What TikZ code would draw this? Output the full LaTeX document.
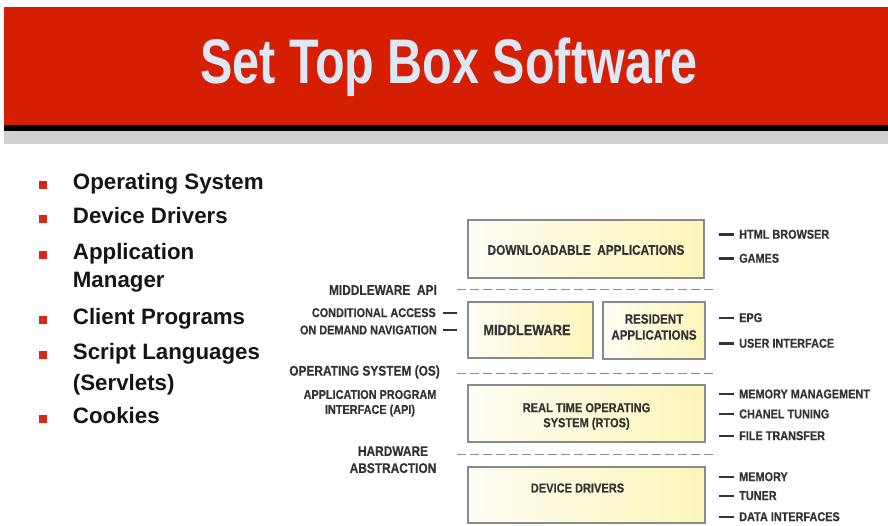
\documentclass[tikz,border=0pt]{standalone}
\usepackage{fontspec}
\setmainfont{Liberation Sans}
\newfontfamily\titlefont[FakeStretch=0.77]{Liberation Sans Bold}
\newfontfamily\dfont[FakeStretch=0.85,FakeBold=0.4]{Liberation Sans Bold}
\newfontfamily\bfont{Liberation Sans Bold}
\definecolor{bannerred}{HTML}{D61E02}
\definecolor{titleblue}{HTML}{DCE8F6}
\definecolor{bulletred}{HTML}{D8261A}
\definecolor{txtdark}{HTML}{151515}
\definecolor{lbl}{HTML}{333333}
\definecolor{boxline}{HTML}{8A8A8A}
\definecolor{boxyellow}{HTML}{FCF5B8}
\definecolor{boxwhite}{HTML}{FEFDF4}
\tikzset{
  layerbox/.style={draw=boxline, line width=1.3pt, left color=boxwhite, right color=boxyellow, inner sep=0pt},
  boxtext/.style={font=\dfont\fontsize{13}{15}\selectfont, text=lbl, align=center, inner sep=0pt},
  sidelabel/.style={font=\dfont\fontsize{12.8}{14}\selectfont, text=lbl, inner sep=0pt},
  layerlabel/.style={font=\dfont\fontsize{14}{16}\selectfont, text=lbl, inner sep=0pt, align=center},
  tick/.style={draw=lbl, line width=2.4pt},
  layerline/.style={draw=boxline, line width=1.4pt, dash pattern=on 9pt off 4pt},
  bul/.style={fill=bulletred, minimum size=8pt, inner sep=0pt},
  bultext/.style={font=\bfont\fontsize{22.3}{30}\selectfont, text=txtdark, anchor=base west, inner sep=0pt, align=left}
}
\begin{document}
\begin{tikzpicture}[x=1pt,y=-1pt]
\useasboundingbox (0,0) rectangle (888,525);
% banner
\fill[bannerred] (4,7) rectangle (888,125);
\fill[black] (4,125) rectangle (888,131);
\fill[black!18] (4,131) rectangle (888,144);
\node[font=\titlefont\fontsize{63}{70}\selectfont, text=titleblue, anchor=base, inner sep=0pt] (title) at (449,83.3) {Set Top Box Software};
% bullets
\node[bul, anchor=south west] (b1) at (38.5,189.3) {};
\node[bultext] (t1) at (72.7,189.3) {Operating System};
\node[bul, anchor=south west] (b2) at (38.5,223.3) {};
\node[bultext] (t2) at (72.7,223.3) {Device Drivers};
\node[bul, anchor=south west] (b3) at (38.5,259.3) {};
\node[bultext] (t3) at (72.7,259.3) {Application};
\node[bultext] (t3b) at (72.7,287.7) {Manager};
\node[bul, anchor=south west] (b4) at (38.5,324) {};
\node[bultext] (t4) at (72.7,324) {Client Programs};
\node[bul, anchor=south west] (b5) at (38.5,359) {};
\node[bultext] (t5) at (72.7,359) {Script Languages};
\node[bultext] (t5b) at (72.7,390) {(Servlets)};
\node[bul, anchor=south west] (b6) at (38.5,423.3) {};
\node[bultext] (t6) at (72.7,423.3) {Cookies};
% boxes
\node[layerbox, minimum width=236pt, minimum height=58pt] (dl) at (586,249) {};
\node[boxtext, font=\dfont\fontsize{13.9}{15}\selectfont] (dlt) at (586,250) {DOWNLOADABLE\ \ APPLICATIONS};
\node[layerbox, minimum width=125pt, minimum height=56pt] (mw) at (530.5,330) {};
\node[boxtext, font=\dfont\fontsize{15}{17}\selectfont] (mwt) at (527,330) {MIDDLEWARE};
\node[layerbox, minimum width=102pt, minimum height=57pt] (res) at (654,330.5) {};
\node[boxtext, font=\dfont\fontsize{13.6}{16}\selectfont] (rest) at (654,327) {RESIDENT\\APPLICATIONS};
\node[layerbox, minimum width=237pt, minimum height=57pt] (rtos) at (586.5,413.5) {};
\node[boxtext] (rtost) at (586.5,416.5) {REAL TIME OPERATING\\SYSTEM (RTOS)};
\node[layerbox, minimum width=237pt, minimum height=56pt] (dd) at (586.5,495) {};
\node[boxtext] (ddt) at (577.5,488) {DEVICE DRIVERS};
% layer lines
\coordinate (l1a) at (457,289.5); \coordinate (l1b) at (717,289.5);
\coordinate (l2a) at (457,373.5); \coordinate (l2b) at (717,373.5);
\coordinate (l3a) at (457,454.5); \coordinate (l3b) at (717,454.5);
\draw[layerline] (l1a) -- (l1b);
\draw[layerline] (l2a) -- (l2b);
\draw[layerline] (l3a) -- (l3b);
% left labels
\node[layerlabel, anchor=east] (mapi) at (437,290) {MIDDLEWARE\ \ API};
\node[sidelabel, anchor=east] (ca) at (436,312.7) {CONDITIONAL ACCESS};
\node[sidelabel, anchor=east] (odn) at (437,330) {ON DEMAND NAVIGATION};
\node[layerlabel, anchor=east] (os) at (440,372) {OPERATING SYSTEM (OS)};
\node[sidelabel, align=center] (api) at (370,403.3) {APPLICATION PROGRAM\\[1pt]INTERFACE (API)};
\node[layerlabel] (hw) at (393,459.7) {HARDWARE\\[1pt]ABSTRACTION};
\draw[tick] ([xshift=7pt]ca.east) -- ([xshift=21pt]ca.east);
\draw[tick] ([xshift=6pt]odn.east) -- ([xshift=20pt]odn.east);
% right labels
\node[sidelabel, anchor=west] (html) at (739,234.3) {HTML BROWSER};
\node[sidelabel, anchor=west] (games) at (739,258.3) {GAMES};
\node[sidelabel, anchor=west] (epg) at (739,317.7) {EPG};
\node[sidelabel, anchor=west] (ui) at (739,343.3) {USER INTERFACE};
\node[sidelabel, anchor=west] (mm) at (739,394) {MEMORY MANAGEMENT};
\node[sidelabel, anchor=west] (ct) at (739,414) {CHANEL TUNING};
\node[sidelabel, anchor=west] (ft) at (739,435.7) {FILE TRANSFER};
\node[sidelabel, anchor=west] (mem) at (739,476.7) {MEMORY};
\node[sidelabel, anchor=west] (tun) at (739,495.7) {TUNER};
\node[sidelabel, anchor=west] (di) at (739,516.7) {DATA INTERFACES};
\foreach \n in {html,games,epg,ui,mm,ct,ft,mem,tun,di}{
  \draw[tick] ([xshift=-20pt]\n.west) -- ([xshift=-5pt]\n.west);
}
\end{tikzpicture}
\end{document}
